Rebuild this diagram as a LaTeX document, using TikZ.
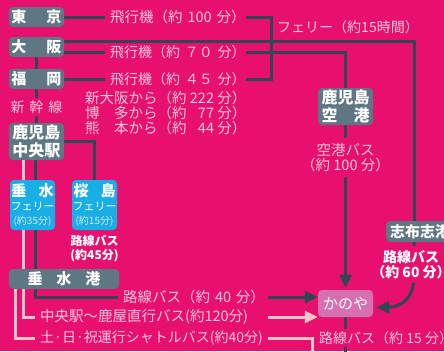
\documentclass[tikz,border=0pt]{standalone}
\usepackage{fontspec}
\setmainfont{Noto Sans CJK JP}
\usetikzlibrary{arrows.meta}
\definecolor{bg}{HTML}{E8106E}
\definecolor{slate}{HTML}{5E7783}
\definecolor{ink}{HTML}{2D4755}
\definecolor{paleline}{HTML}{FFC4C6}
\definecolor{pinktext}{HTML}{F9C6DD}
\definecolor{sky}{HTML}{1AAEE7}
\definecolor{skypale}{HTML}{CDEBF8}
\definecolor{kanoyafill}{HTML}{D770AE}
\pgfdeclarelayer{bgfill}
\pgfdeclarelayer{lines}
\pgfsetlayers{bgfill,lines,main}
\tikzset{
  stn/.style={fill=slate,text=white,rounded corners=4pt,inner sep=0pt,
    font=\bfseries\fontsize{15}{17}\selectfont},
  ferry/.style={fill=sky,text=white,rounded corners=4pt,inner sep=0pt,
    minimum width=45pt,minimum height=50pt,align=center,font=\fontsize{11}{14}\selectfont},
  lbl/.style={text=pinktext,inner sep=0pt,font=\fontsize{14.5}{15}\selectfont},
  wlbl/.style={text=white,inner sep=0pt,align=center,font=\bfseries\fontsize{14}{15}\selectfont},
  route/.style={ink,line width=3pt},
  pale/.style={paleline,line width=3pt},
  tip/.style={-{Triangle[length=13pt,width=12pt]}}
}
\begin{document}
\begin{tikzpicture}[x=1pt,y=-1pt]
  \begin{pgfonlayer}{bgfill}
    \fill[bg] (0,0) rectangle (444,351);
  \end{pgfonlayer}
  \useasboundingbox (0,0) rectangle (444,351);
  % stations
  \node[stn,minimum width=55pt,minimum height=20pt] (tokyo) at (36.5,17) {東\hspace{20pt}京};
  \node[stn,minimum width=55pt,minimum height=20pt] (osaka) at (36.5,47) {大\hspace{20pt}阪};
  \node[stn,minimum width=55pt,minimum height=20pt] (fukuoka) at (36.5,79) {福\hspace{20pt}岡};
  \node[stn,minimum width=55pt,minimum height=37pt,align=center,font=\bfseries\fontsize{16}{18}\selectfont]
    (chuo) at (36.5,141.5) {鹿児島\\中央駅};
  \node[ferry] (tarumizu) at (32.5,205)
    {{\bfseries\fontsize{15}{15}\selectfont 垂\hspace{12pt}水}\\フェリー\\{\fontsize{10}{14}\selectfont\color{skypale}(約35分)}};
  \node[ferry] (sakura) at (94.5,205)
    {{\bfseries\fontsize{15}{15}\selectfont 桜\hspace{12pt}島}\\フェリー\\{\fontsize{10}{14}\selectfont\color{skypale}(約15分)}};
  \node[wlbl,font=\bfseries\fontsize{12}{14}\selectfont] (bus45) at (94.5,249) {路線バス\\(約45分)};
  \node[stn,minimum width=110pt,minimum height=20pt] (port) at (64,279) {垂\hspace{14pt}水\hspace{14pt}港};
  \node[stn,minimum width=55pt,minimum height=37pt,align=center,font=\bfseries\fontsize{16}{18}\selectfont]
    (airport) at (345.5,106.5) {鹿児島\\空\hspace{16pt}港};
  \node[stn,anchor=west,minimum height=21pt,text width=66pt,inner xsep=4pt,align=left]
    (shibushi) at (386,231.5) {志布志港};
  \node[fill=kanoyafill,text=white,rounded corners=4pt,inner sep=0pt,minimum width=55pt,minimum height=27pt,
    font=\fontsize{15}{15}\selectfont] (kanoya) at (345.5,303.5) {かのや};
  % labels
  \node[lbl,anchor=west,text width=136pt,align=left] (p1) at (110,17) {\mbox{飛行機（約 100 分）}};
  \node[lbl,anchor=west,text width=136pt,align=left,font=\fontsize{14}{15}\selectfont] (p2) at (110,52) {\mbox{飛行機（約 ７０ 分）}};
  \node[lbl,anchor=west,text width=136pt,align=left,font=\fontsize{14}{15}\selectfont] (p3) at (110,79) {\mbox{飛行機（約 ４５ 分）}};
  \node[lbl,fill=bg,inner sep=3pt,font=\fontsize{14}{15}\selectfont] (shinkansen) at (36.5,107) {新\hspace{5pt}幹\hspace{5pt}線};
  \node[lbl,anchor=north west,align=left,font=\fontsize{14.5}{11.5}\selectfont] (times) at (85,91)
    {新大阪から（約 222 分）\\博　多から（約 \phantom{2}77 分）\\熊　本から（約 \phantom{2}44 分）};
  \node[lbl,font=\fontsize{14}{15}\selectfont] (ferrylbl) at (348,27) {フェリー（約15時間）};
  \node[lbl,fill=bg,align=center,inner ysep=5pt] (airbus) at (345.5,157.5) {空港バス\\（約 100 分）};
  \node[wlbl,fill=bg,inner ysep=4pt] (bus60) at (411,264.5) {路線バス\\（約 60 分）};
  \node[lbl,anchor=west,text width=141pt,align=left] (b40) at (123,297) {\mbox{路線バス（約 40 分）}};
  \node[lbl,anchor=west,text width=224pt,align=left] (direct) at (40,317) {\mbox{中央駅〜鹿屋直行バス(約120分)}};
  \node[lbl,anchor=west,text width=224pt,align=left,font=\fontsize{14}{15}\selectfont] (shuttle) at (40,338) {\mbox{土·日·祝運行シャトルバス(約40分)}};
  \node[lbl,fill=bg,anchor=west,inner sep=2pt,font=\fontsize{14}{15}\selectfont] (b15) at (317,338) {路線バス（約 15 分）};
  \coordinate (ja) at (271,52);
  \coordinate (fx) at (414,0);
  \coordinate (low) at (312,356);
  \coordinate (kend) at (345.5,356);
  \coordinate (c1) at (414,300);
  \coordinate (c2) at (400,307);
  % connectors
  \begin{pgfonlayer}{lines}
    \draw[route] (tokyo.east) -- ([xshift=-5pt]p1.west);
    \draw[route] ([yshift=-5pt]osaka.east) -- ([xshift=-5pt]p2.west);
    \draw[route] (fukuoka.east) -- ([xshift=-5pt]p3.west);
    \draw[route] (p1.east) -| (ja);
    \draw[route] (p3.east) -| (ja);
    \draw[route] (p2.east) -| (airport.north);
    \draw[route] ([yshift=6pt]osaka.east) -| (fx |- shibushi.north);
    \draw[route] (osaka) -- (chuo);
    \draw[route] ([xshift=-1pt]chuo.south) |- ([xshift=-5pt]b40.west);
    \draw[route] (chuo.east) -| (sakura.north);
    \draw[pale] ([xshift=-13.5pt]chuo.south) |- ([xshift=-5pt]direct.west);
    \draw[pale] ([xshift=-49pt]port.south) |- ([xshift=-5pt]shuttle.west);
    \draw[route,tip] ([xshift=4pt]b40.east) -- (kanoya.west |- b40.east);
    \draw[pale,tip] ([xshift=4pt]direct.east) -- (kanoya.south west |- direct.east);
    \draw[pale] ([xshift=4pt]shuttle.east) -| (low);
    \draw[route,tip,shorten >=2pt] (airport) -- (kanoya);
    \draw[route] (kanoya) -- (kend);
    \draw[route,tip,shorten >=3pt] (fx |- shibushi.south) -- (414,275)
      .. controls (c1) and (c2) .. ([yshift=-4pt]kanoya.east);
  \end{pgfonlayer}
\end{tikzpicture}
\end{document}
